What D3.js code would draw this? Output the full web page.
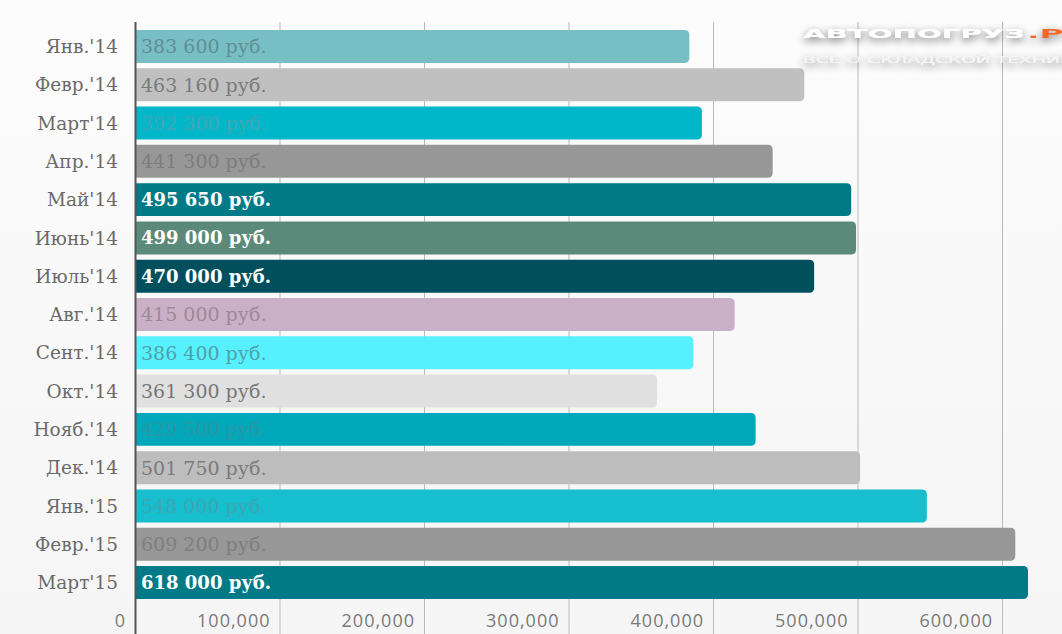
<!DOCTYPE html>
<html><head><meta charset="utf-8">
<script src="https://cdn.jsdelivr.net/npm/d3@7"></script>
<style>
html,body{margin:0;padding:0;background:#f6f6f6;}
svg{display:block;}
</style></head>
<body>
<script>
const categories = ["Янв.'14","Февр.'14","Март'14","Апр.'14","Май'14","Июнь'14","Июль'14","Авг.'14","Сент.'14","Окт.'14","Нояб.'14","Дек.'14","Янв.'15","Февр.'15","Март'15"];
const values = [383600,463160,392300,441300,495650,499000,470000,415000,386400,361300,429500,501750,548000,609200,618000];
const ticks = [0,100000,200000,300000,400000,500000,600000];
const tickLabels = ["0","100,000","200,000","300,000","400,000","500,000","600,000"];

const barColors = ["#78bec5","#c0c0c0","#00b6c9","#979797","#007a87","#5b8a7a","#004f5d","#c9b0c6","#57f0fe","#e0e0e0","#00a8ba","#bdbdbd","#17bece","#979797","#007a87"];
const labelColors = ["#5f8f95","#7a7a7a","#43a7b3","#7d7d7d","#ffffff","#ffffff","#ffffff","#9c8a99","#4fa0a8","#777777","#2d95a2","#7b7b7b","#3fa6b2","#7e7e7e","#ffffff"];
const labelBold = [false,false,false,false,true,true,true,false,false,false,false,false,false,false,true];

const W = 1062, H = 634;
const svg = d3.select("body").append("svg").attr("width", W).attr("height", H);

const defs = svg.append("defs");
const bg = defs.append("linearGradient").attr("id","bg").attr("x1",0).attr("y1",0).attr("x2",0).attr("y2",1);
bg.append("stop").attr("offset","0").attr("stop-color","#fcfcfc");
bg.append("stop").attr("offset","1").attr("stop-color","#f5f5f5");
svg.append("rect").attr("width",W).attr("height",H).attr("fill","url(#bg)");

const x = d3.scaleLinear().domain([0,600000]).range([135,1002]);
const y = d3.scaleBand().domain(categories).range([30,599]).paddingInner(0.14).paddingOuter(0);

// gridlines
svg.append("g").selectAll("line").data(ticks.slice(1)).join("line")
  .attr("x1",d=>x(d)+0.5).attr("x2",d=>x(d)+0.5)
  .attr("y1",22).attr("y2",H)
  .attr("stroke","#b9b9b9").attr("stroke-width",1);

// bars with right-side rounded corners
const r = 5;
function barPath(x0, x1, y0, h){
  return `M${x0},${y0}H${x1-r}Q${x1},${y0} ${x1},${y0+r}V${y0+h-r}Q${x1},${y0+h} ${x1-r},${y0+h}H${x0}Z`;
}
svg.append("g").selectAll("path").data(categories).join("path")
  .attr("d",(c,i)=>barPath(x(0)+1, x(values[i]), y(c), y.bandwidth()))
  .attr("fill",(c,i)=>barColors[i]);

// value labels
const fmt = v => d3.format(",")(v).replace(/,/g," ") + " руб.";
svg.append("g").selectAll("text").data(categories).join("text")
  .attr("x", x(0)+6)
  .attr("y", c=>y(c)+y.bandwidth()/2)
  .attr("dy","0.36em")
  .attr("font-family","'DejaVu Serif','Liberation Serif',serif")
  .attr("font-size",(c,i)=>labelBold[i]?18:19)
  .attr("font-weight",(c,i)=>labelBold[i]?"bold":"normal")
  .attr("fill",(c,i)=>labelColors[i])
  .text((c,i)=>fmt(values[i]));

// category labels
svg.append("g").selectAll("text").data(categories).join("text")
  .attr("x",118)
  .attr("y", c=>y(c)+y.bandwidth()/2)
  .attr("dy","0.36em")
  .attr("text-anchor","end")
  .attr("font-family","'DejaVu Serif','Liberation Serif',serif")
  .attr("font-size",18.5)
  .attr("fill","#6a6a6a")
  .text(c=>c);

// axis line
svg.append("line").attr("x1",x(0)+0.5).attr("x2",x(0)+0.5).attr("y1",22).attr("y2",H)
  .attr("stroke","#555").attr("stroke-width",2);

// tick labels
svg.append("g").selectAll("text").data(ticks).join("text")
  .attr("x",d=>x(d)-9)
  .attr("y",627)
  .attr("text-anchor","end")
  .attr("font-family","'Open Sans','Noto Sans',sans-serif")
  .attr("font-size",18)
  .attr("letter-spacing",1)
  .attr("fill","#7a7a7a")
  .text((d,i)=>tickLabels[i]);

// watermark
const f = defs.append("filter").attr("id","sh").attr("x","-20%").attr("y","-80%").attr("width","140%").attr("height","260%");
f.append("feGaussianBlur").attr("in","SourceAlpha").attr("stdDeviation",4).attr("result","b");
f.append("feOffset").attr("in","b").attr("dx",0).attr("dy",3).attr("result","o");
f.append("feComponentTransfer").attr("in","o").attr("result","o2").append("feFuncA").attr("type","linear").attr("slope",0.6);
const m = f.append("feMerge"); m.append("feMergeNode").attr("in","o2"); m.append("feMergeNode").attr("in","SourceGraphic");
const wm = svg.append("g").attr("filter","url(#sh)");
wm.append("text").attr("x",803).attr("y",38)
  .attr("font-family","'DejaVu Sans',sans-serif").attr("font-weight","bold").attr("font-size",13)
  .attr("textLength",222).attr("lengthAdjust","spacingAndGlyphs")
  .attr("fill","#ffffff").text("АВТОПОГРУЗ");
wm.append("text").attr("x",1027).attr("y",38)
  .attr("font-family","'DejaVu Sans',sans-serif").attr("font-weight","bold").attr("font-size",13)
  .attr("textLength",62).attr("lengthAdjust","spacingAndGlyphs")
  .attr("fill","#f0682a").text(".РУ");
wm.append("text").attr("x",803).attr("y",63)
  .attr("font-family","'DejaVu Sans',sans-serif").attr("font-size",9.5)
  .attr("textLength",282).attr("lengthAdjust","spacingAndGlyphs")
  .attr("fill","#f4f4f4").text("ВСЕ О СКЛАДСКОЙ ТЕХНИКЕ");
</script>
</body></html>
